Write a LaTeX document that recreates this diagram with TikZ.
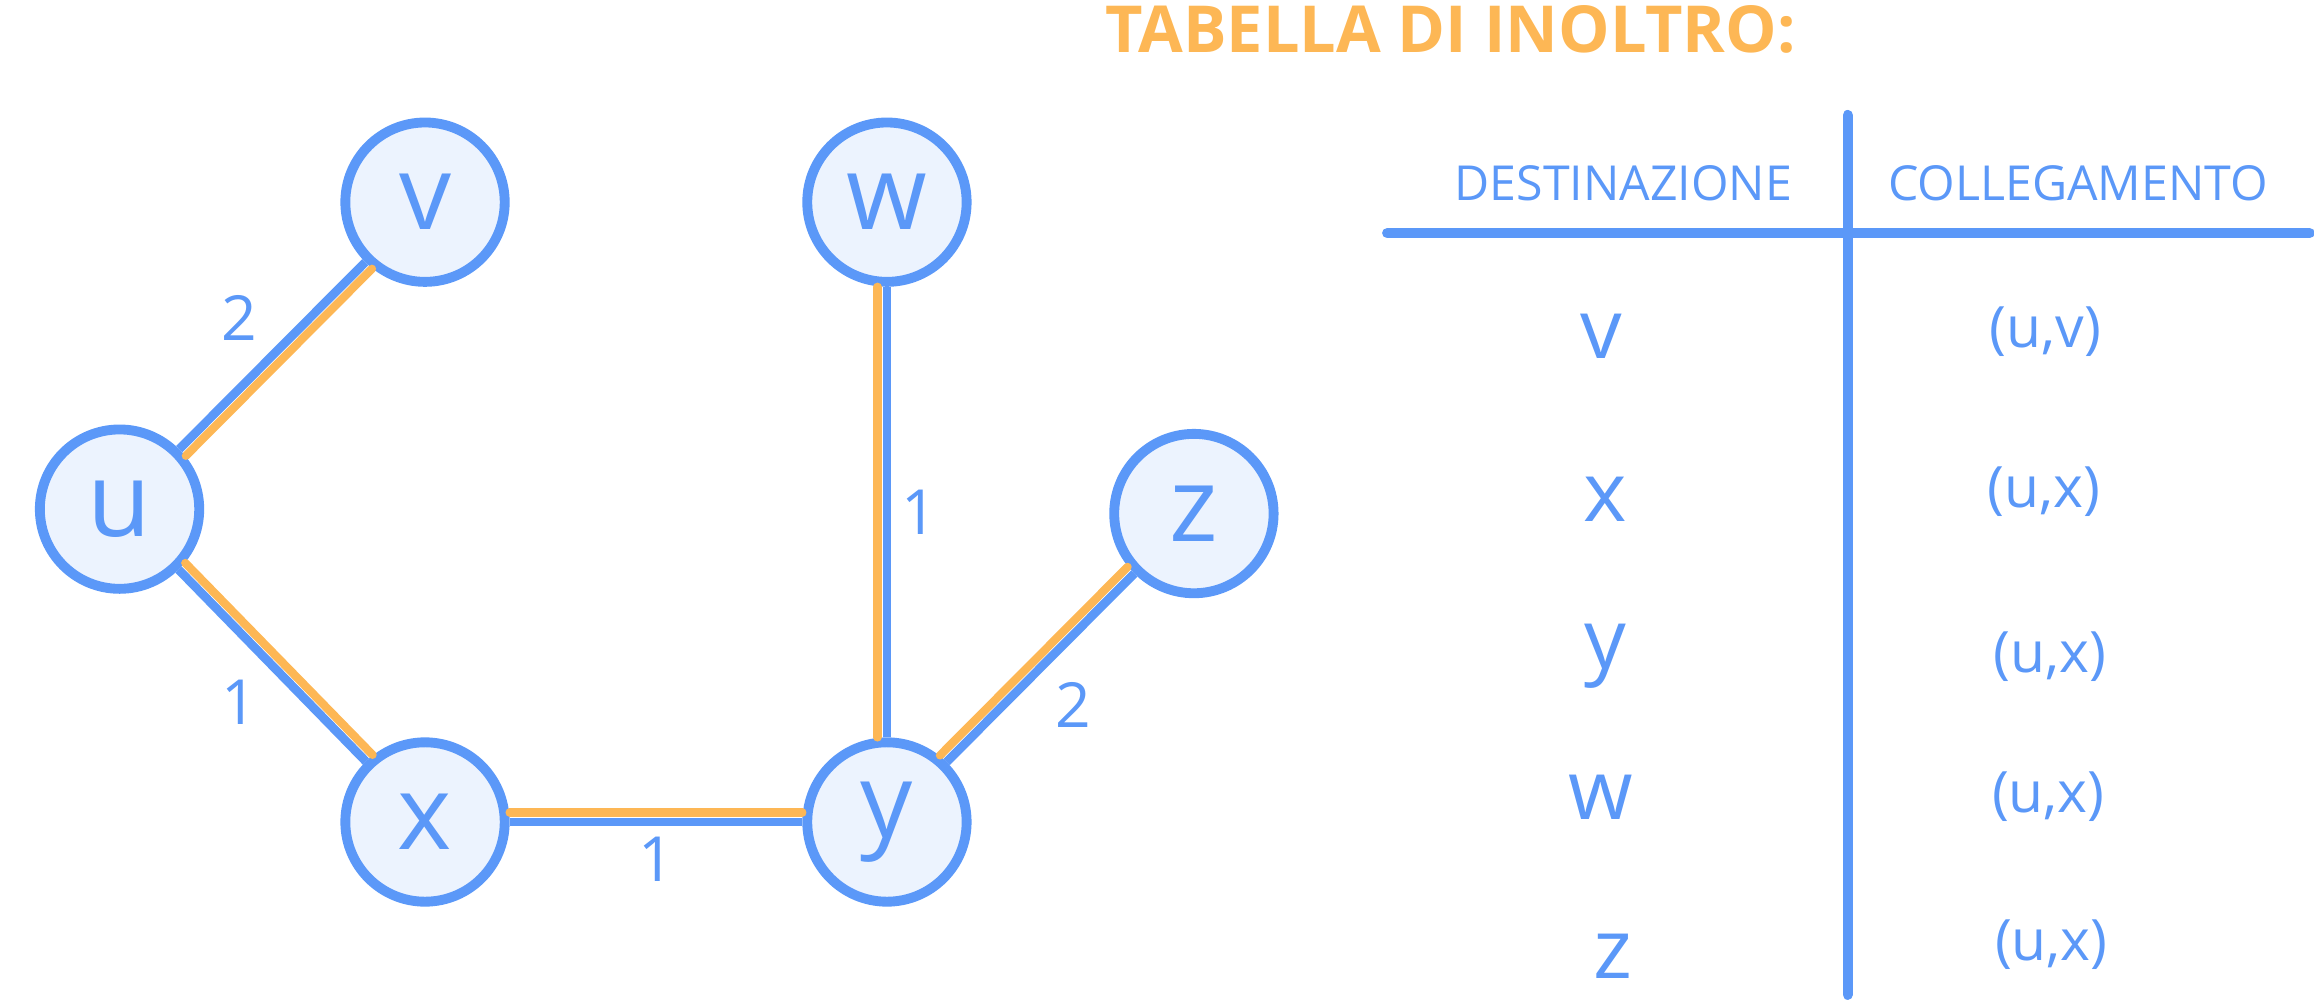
\documentclass[tikz,border=0pt]{standalone}
\usepackage{fontspec}
\setmainfont{Open Sans}
\usetikzlibrary{positioning}
\usepackage{xcolor}
\definecolor{netblue}{HTML}{5B98F8}
\definecolor{netfill}{HTML}{ECF3FE}
\definecolor{netorange}{HTML}{FDB755}

\begin{document}
\begin{tikzpicture}[node distance=2.08cm and 2.07cm, on grid, auto]
                % Styles
                \tikzstyle{router} = [circle, minimum size=1.08cm, inner sep=0pt, draw=netblue, line width=1.9pt, fill=netfill, text=netblue, font=\fontsize{20}{20}\selectfont]
                \tikzstyle{link} = [draw=netblue, line width=1.7pt]
                \tikzstyle{route} = [draw=netorange, line width=1.6pt, line cap=round]
                \tikzstyle{weight} = [text=netblue, font=\fontsize{12}{12}\selectfont, inner sep=2pt]
                \tikzstyle{title} = [text=netorange, font=\bfseries\fontsize{12.5}{12.5}\selectfont]
                \tikzstyle{header} = [text=netblue, font=\fontsize{9.3}{9.3}\selectfont]
                \tikzstyle{dest} = [text=netblue, font=\fontsize{16}{16}\selectfont]
                \tikzstyle{hop} = [text=netblue, font=\fontsize{11}{11}\selectfont]
                \tikzstyle{rule} = [draw=netblue, line width=2pt, line cap=round]

                \useasboundingbox (0,0) rectangle (15.68,6.78);

                % Nodes
                \node (u) [router] at (0.81,3.33) {u};
                \node (v) [router, above right=of u] {v};
                \node (x) [router, below right=2.12cm and 2.07cm of u] {x};
                \node (w) [router, right=3.13cm of v] {w};
                \node (y) [router, right=3.13cm of x] {y};
                \node (z) [router, above right=2.09cm and 2.08cm of y] {z};

                % Paths
                \draw [link] (u) -- node (luv) [weight, above left] {2} (v);
                \draw [link] (u) -- node (lux) [weight, below left] {1} (x);
                \draw [link] (x) -- node (lxy) [weight, below] {1} (y);
                \draw [link] (w) -- node (lwy) [weight, right] {1} (y);
                \draw [link] (y) -- node (lyz) [weight, below right] {2} (z);
                \draw [route, transform canvas={shift={(0.045,-0.045)}}] (u) -- (v);
                \draw [route, transform canvas={shift={(0.045,0.045)}}] (u) -- (x);
                \draw [route, transform canvas={shift={(0,0.064)}}] (x) -- (y);
                \draw [route, transform canvas={shift={(-0.064,0)}}] (w) -- (y);
                \draw [route, transform canvas={shift={(-0.045,0.045)}}] (y) -- (z);

                % Table
                \node (table) [title] at (9.83,6.58) {TABELLA DI INOLTRO:};
                \node (hdest) [header] at (11.00,5.54) {DESTINAZIONE};
                \node (hhop) [header] at (14.08,5.54) {COLLEGAMENTO};
                \coordinate (coltop) at (12.52,6.00);
                \coordinate (colbot) at (12.52,0.04);
                \coordinate (rowleft) at (9.40,5.20);
                \coordinate (rowright) at (15.65,5.20);
                \draw [rule] (coltop) -- (colbot);
                \draw [rule] (rowleft) -- (rowright);

                \node (destv) [dest] at (10.85,4.50) {v};
                \node (hopv) [hop] at (13.86,4.53) {(u,v)};
                \node (destx) [dest] at (10.88,3.40) {x};
                \node (hopx) [hop] at (13.85,3.45) {(u,x)};
                \node (desty) [dest] at (10.88,2.33) {y};
                \node (hopy) [hop] at (13.89,2.33) {(u,x)};
                \node (destw) [dest] at (10.85,1.38) {w};
                \node (hopw) [hop] at (13.88,1.38) {(u,x)};
                \node (destz) [dest] at (10.93,0.30) {z};
                \node (hopz) [hop] at (13.90,0.38) {(u,x)};

            \end{tikzpicture}
\end{document}
